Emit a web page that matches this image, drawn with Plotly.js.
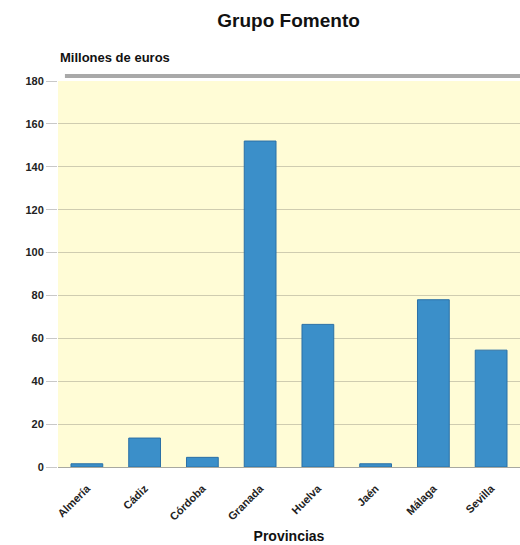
<!DOCTYPE html>
<html><head><meta charset="utf-8">
<script src="https://cdn.plot.ly/plotly-3.0.1.min.js"></script>
<style>html,body{margin:0;padding:0;background:#fff}#c{width:520px;height:545px}</style>
</head><body><div id="c"></div>
<script>
const provincias = ["Almería","Cádiz","Córdoba","Granada","Huelva","Jaén","Málaga","Sevilla"];
const valores = [1.5, 13.5, 4.5, 152, 66.5, 1.5, 78, 54.5];
const yTicks = [0,20,40,60,80,100,120,140,160,180];

const trace = {
  type: "bar", x: provincias, y: valores,
  marker: {color: "#3b8fc9", line: {color: "#2b70a6", width: 1}},
  hoverinfo: "x+y"
};
const layout = {
  width: 520, height: 545,
  margin: {l: 58, r: 0, t: 81, b: 78},
  paper_bgcolor: "#ffffff", plot_bgcolor: "#fffcd6",
  font: {family: "Liberation Sans, Arial, sans-serif", color: "#222"},
  title: {text: "<b>Grupo Fomento</b>", x: 0.555, xanchor: "center", y: 0.962, yanchor: "middle",
          font: {size: 19, color: "#111"}},
  bargap: 0.45,
  showlegend: false,
  xaxis: {
    type: "category", range: [-0.5, 7.5], tickangle: -45,
    tickfont: {size: 11, color: "#222", family: "Liberation Sans, Arial, sans-serif"},
    tickprefix: "<b>", ticksuffix: "</b>",
    ticklabelstandoff: 12,
    showgrid: false, showline: false, ticks: "", zeroline: false,
    title: {text: "<b>Provincias</b>", font: {size: 14, color: "#111"}, standoff: 9}
  },
  yaxis: {
    range: [0, 180], tickvals: yTicks, ticktext: yTicks.map(v => "<b>" + v + "</b>"),
    tickfont: {size: 11, color: "#222"},
    ticks: "outside", ticklen: 11, tickcolor: "#c8c8c8",
    showgrid: true, gridcolor: "#cfccb0", gridwidth: 1,
    zeroline: true, zerolinecolor: "#a8a8a0", zerolinewidth: 1,
    showline: false, fixedrange: true
  },
  shapes: [
    {type: "rect", xref: "paper", yref: "paper", x0: 0.015, x1: 1, y0: 1.008, y1: 1.018,
     fillcolor: "#a9a9a9", line: {width: 0}}
  ],
  annotations: [
    {text: "<b>Millones de euros</b>", xref: "paper", yref: "paper", x: 0, y: 1.06,
     xanchor: "left", yanchor: "middle", showarrow: false, font: {size: 13, color: "#111"}}
  ]
};
Plotly.newPlot("c", [trace], layout, {displayModeBar: false, staticPlot: true});
</script></body></html>
